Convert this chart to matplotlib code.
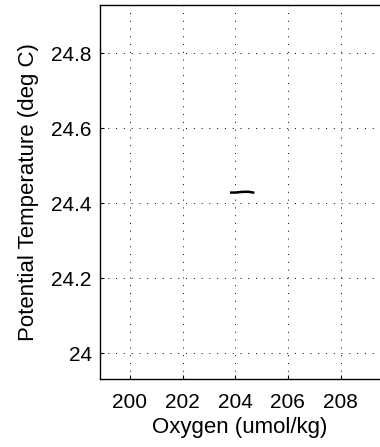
import matplotlib
matplotlib.use('Agg')
import matplotlib.pyplot as plt

# datos
oxygen = [203.85, 204.0, 204.15, 204.3, 204.4, 204.5, 204.6, 204.68]
theta = [24.428, 24.428, 24.429, 24.430, 24.430, 24.430, 24.429, 24.428]

xticks = [200, 202, 204, 206, 208]
yticks = [24.0, 24.2, 24.4, 24.6, 24.8]
yticklabels = ['24', '24.2', '24.4', '24.6', '24.8']

plt.rcParams['font.family'] = ['Liberation Sans', 'DejaVu Sans']

fig = plt.figure(figsize=(3.8, 4.47), dpi=100)
ax = fig.add_axes([100 / 380, (447 - 379) / 447, 1 - 100 / 380, 374 / 447])

ax.plot(oxygen, theta, color='black', lw=1.8)

ax.set_xlim(198.86, 209.5)
ax.set_ylim(23.931, 24.928)
ax.set_xticks(xticks)
ax.set_yticks(yticks)
ax.set_yticklabels(yticklabels)
ax.grid(True, color='black', linestyle=(0, (1, 7)), linewidth=0.7)
ax.tick_params(direction='in', length=3, width=0.8, labelsize=15)
ax.tick_params(axis='x', pad=10)
ax.tick_params(axis='y', pad=6)
ax.spines['right'].set_visible(False)
for s in ['left', 'top', 'bottom']:
    ax.spines[s].set_linewidth(1.0)

ax.set_xlabel('Oxygen (umol/kg)', fontsize=16, labelpad=4)
ax.set_ylabel('Potential Temperature (deg C)', fontsize=16, labelpad=9)

fig.savefig('out.png', dpi=100)
